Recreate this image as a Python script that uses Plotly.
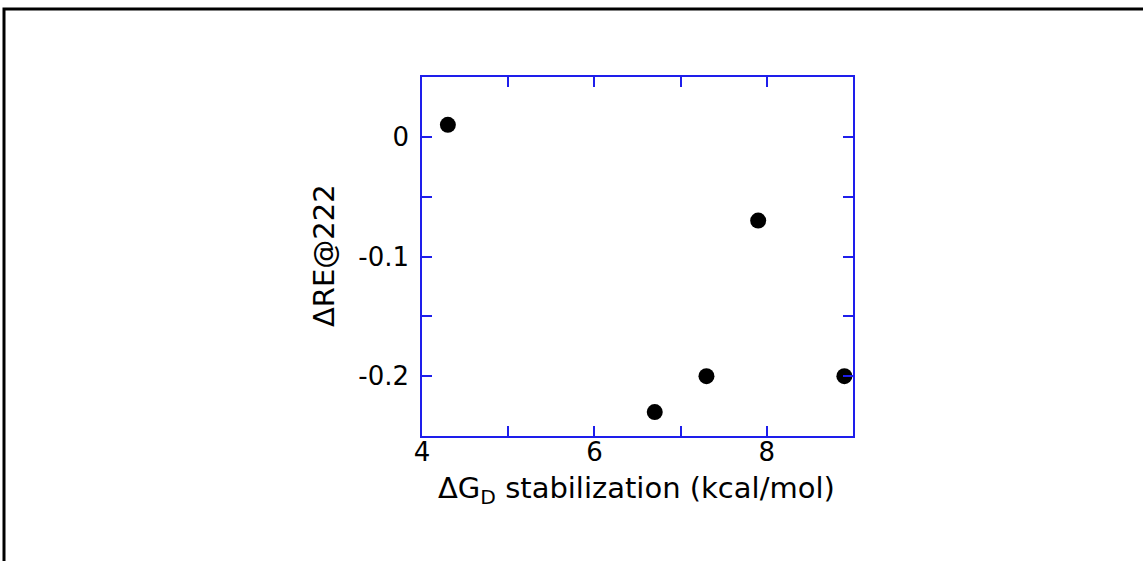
import plotly.graph_objects as go

x_vals = [4.3, 6.7, 7.3, 7.9, 8.9]
y_vals = [0.01, -0.23, -0.20, -0.07, -0.20]

x_tickvals = [4, 5, 6, 7, 8, 9]
x_ticktext = ["4", "", "6", "", "8", ""]
y_tickvals = [0.05, 0.0, -0.05, -0.1, -0.15, -0.2, -0.25]
y_ticktext = ["", "0", "", "-0.1", "", "-0.2", ""]

blue = "rgb(30,30,235)"
font_family = "DejaVu Sans, Liberation Sans, Arial, sans-serif"

fig = go.Figure()
fig.add_trace(go.Scatter(
    x=x_vals, y=y_vals, mode="markers",
    marker=dict(color="black", size=16),
    cliponaxis=False, showlegend=False,
))

axis_common = dict(
    showline=True, linecolor=blue, linewidth=1.5, mirror="allticks",
    ticks="inside", ticklen=10, tickwidth=1.5, tickcolor=blue,
    showgrid=False, zeroline=False,
    tickfont=dict(family=font_family, size=26, color="black"),
)

fig.update_layout(
    width=1143, height=561,
    margin=dict(l=422, r=290, t=77, b=125),
    paper_bgcolor="white", plot_bgcolor="white",
    xaxis=dict(
        range=[4, 9], tickmode="array", tickvals=x_tickvals, ticktext=x_ticktext,
        ticklabelstandoff=-8,
        **axis_common,
    ),
    yaxis=dict(
        range=[-0.25, 0.05], tickmode="array", tickvals=y_tickvals, ticktext=y_ticktext,
        ticklabelstandoff=6,
        **axis_common,
    ),
    annotations=[
        dict(text="ΔG<sub>D</sub> stabilization (kcal/mol)", xref="paper", yref="paper",
             x=(636 - 422) / 431, y=(436 - 490) / 359, xanchor="center", yanchor="middle",
             showarrow=False, font=dict(family=font_family, size=29, color="black")),
        dict(text="ΔRE@222", xref="paper", yref="paper", textangle=-90,
             x=(324 - 422) / 431, y=(436 - 256) / 359, xanchor="center", yanchor="middle",
             showarrow=False, font=dict(family=font_family, size=29, color="black")),
    ],
    shapes=[
        dict(type="rect", xref="paper", yref="paper",
             x0=(4 - 422) / 431, x1=(1160 - 422) / 431,
             y0=(436 - 580) / 359, y1=(436 - 9) / 359,
             line=dict(color="black", width=3), fillcolor="rgba(0,0,0,0)", layer="below"),
    ],
)

fig.write_html("out.html")
